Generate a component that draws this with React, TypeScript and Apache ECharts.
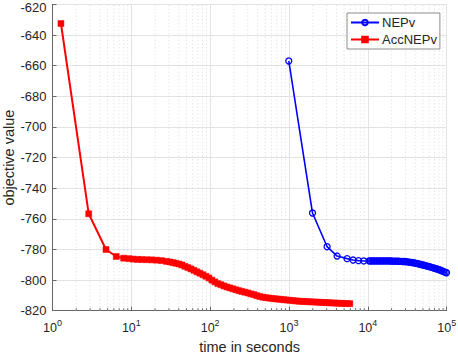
import React, { useEffect, useRef } from 'react';
import * as echarts from 'echarts';

// Axis ranges / ticks
const xMin = 1;
const xMax = 100000;
const yMin = -820;
const yMax = -620;
const yInterval = 20;
const xMinorTicks = [
  2, 3, 4, 5, 6, 7, 8, 9,
  20, 30, 40, 50, 60, 70, 80, 90,
  200, 300, 400, 500, 600, 700, 800, 900,
  2000, 3000, 4000, 5000, 6000, 7000, 8000, 9000,
  20000, 30000, 40000, 50000, 60000, 70000, 80000, 90000,
];

// NEPv (blue, circles)
const nepvTime = [
  993, 1986, 3041, 4070, 5450, 6490, 7600, 8870, 10350,
  10726, 11206, 11707, 12231, 12778, 13350, 13947, 14571, 15223, 15904,
  16615, 17358, 18135, 18946, 19794, 20679, 21604, 22571, 23581, 24636,
  25738, 26889, 28092, 29349, 30662, 32034, 33467, 34964, 36528, 38162,
  39869, 41653, 43516, 45463, 47497, 49622, 51842, 54161, 56584, 59115,
  61760, 64523, 67409, 70425, 73575, 76867, 80306, 83898, 87652, 91573,
  95670, 99500,
];
const nepvValue = [
  -656.9, -756.2, -778.2, -784.3, -786.0, -786.9, -787.3, -787.5, -787.5,
  -787.5, -787.5, -787.5, -787.5, -787.5, -787.5, -787.5, -787.5, -787.5, -787.5,
  -787.5, -787.5, -787.5, -787.5, -787.55, -787.6, -787.6, -787.6, -787.65, -787.7,
  -787.75, -787.8, -787.85, -787.9, -788.0, -788.1, -788.25, -788.4, -788.55, -788.7,
  -788.9, -789.1, -789.35, -789.6, -789.85, -790.1, -790.35, -790.6, -790.85, -791.1,
  -791.4, -791.7, -792.0, -792.3, -792.6, -792.9, -793.25, -793.6, -794.05, -794.5,
  -794.9, -795.2,
];

// AccNEPv (red, squares)
const accTime = [
  1.28, 2.88, 4.77, 6.44, 7.99, 9.32, 10.57, 12.02, 13.51, 15.63, 18.09, 20.93, 24.21, 28.03,
  30.85, 33.67, 36.75, 40.12, 43.79, 47.8, 52.17, 56.94, 62.15, 67.84,
  74.05, 80.82, 88.22, 96.29, 105.1, 114.7, 125.2, 136.7, 149.2, 162.8,
  177.7, 194.0, 211.8, 231.1, 252.3, 275.4, 300.6, 328.1, 358.1, 390.9,
  426.6, 465.7, 508.3, 554.8, 605.6, 661.0, 721.5, 787.5, 859.6, 938.2,
  1024, 1118, 1220, 1332, 1454, 1587, 1732, 1890, 2063, 2252,
  2458, 2683, 2929, 3197, 3489, 3809, 4157, 4538, 4953, 5406, 5901,
];
const accValue = [
  -632.4, -756.7, -780.0, -784.6, -785.7, -786.0, -786.3, -786.5, -786.6, -786.7, -786.8, -787.0, -787.3, -787.8,
  -788.2, -788.6, -789.0, -789.5, -790.1, -791.0, -791.8, -792.7, -793.6, -794.6,
  -795.5, -796.5, -797.5, -798.6, -800.0, -801.2, -802.3, -803.0, -803.8, -804.5,
  -805.1, -805.7, -806.3, -806.9, -807.4, -807.9, -808.4, -809.0, -809.5, -810.2,
  -810.7, -811.2, -811.5, -811.7, -812.0, -812.2, -812.4, -812.6, -812.8, -813.0,
  -813.2, -813.4, -813.6, -813.8, -813.9, -814.0, -814.1, -814.2, -814.3, -814.4,
  -814.5, -814.6, -814.7, -814.8, -814.9, -815.0, -815.1, -815.2, -815.3, -815.3, -815.4,
];

const FONT = '"Liberation Sans", Arial, Helvetica, sans-serif';
const TEXT = '#262626';
const AXIS = '#666666';

export default function App() {
  const ref = useRef<HTMLDivElement>(null);
  useEffect(() => {
    document.body.style.margin = '0';
    const chart = echarts.init(ref.current!, null, { renderer: 'svg' });
    const option: any = {
      animation: false,
      backgroundColor: '#ffffff',
      textStyle: { fontFamily: FONT },
      grid: {
        left: 52.5, right: 11.3, top: 4.5, bottom: 44.3,
        containLabel: false, outerBoundsMode: 'none',
      },
      legend: {
        data: ['NEPv', 'AccNEPv'],
        orient: 'vertical',
        left: 347,
        top: 13,
        backgroundColor: '#ffffff',
        borderColor: '#8c8c8c',
        borderWidth: 1,
        borderRadius: 0,
        padding: [2, 3, 2, 3],
        itemGap: 2,
        itemWidth: 28,
        itemHeight: 7,
        textStyle: { fontFamily: FONT, fontSize: 13, color: TEXT, padding: [0, 0, 0, -2], lineHeight: 15 },
      },
      xAxis: {
        type: 'log',
        logBase: 10,
        min: xMin,
        max: xMax,
        name: 'time in seconds',
        nameLocation: 'middle',
        nameGap: 29,
        nameMoveOverlap: false,
        nameTextStyle: { fontFamily: FONT, fontSize: 14.5, color: TEXT },
        axisLine: { show: true, lineStyle: { color: AXIS, width: 1 } },
        axisTick: { show: true, inside: true, length: 4, lineStyle: { color: AXIS } },
        splitLine: { show: true, lineStyle: { color: '#e3e3e3', width: 1 } },
        minorTick: { show: false },
        axisLabel: {
          margin: 8,
          formatter: (v: number) => '{b|10}{s|' + Math.round(Math.log10(v)) + '}',
          rich: {
            b: { fontFamily: FONT, fontSize: 12.5, color: TEXT, lineHeight: 16, verticalAlign: 'bottom' },
            s: { fontFamily: FONT, fontSize: 9, color: TEXT, lineHeight: 16, verticalAlign: 'top', padding: [0, 0, 7, 0] },
          },
        },
      },
      yAxis: {
        type: 'value',
        min: yMin,
        max: yMax,
        interval: yInterval,
        name: 'objective value',
        nameLocation: 'middle',
        nameGap: 36,
        nameMoveOverlap: false,
        nameTextStyle: { fontFamily: FONT, fontSize: 14.5, color: TEXT },
        axisLine: { show: true, lineStyle: { color: AXIS, width: 1 } },
        axisTick: { show: true, inside: true, length: 4, lineStyle: { color: AXIS } },
        splitLine: { show: true, lineStyle: { color: '#e3e3e3', width: 1 } },
        axisLabel: {
          margin: 6,
          formatter: (v: number) => (v === yMax ? '{t|' + v + '}' : '{n|' + v + '}'),
          rich: {
            n: { fontFamily: FONT, fontSize: 13, color: TEXT },
            t: { fontFamily: FONT, fontSize: 13, color: TEXT, padding: [5, 0, 0, 0] },
          },
        },
      },
      series: [
        {
          type: 'custom',
          name: 'minor',
          silent: true,
          z: 1,
          data: xMinorTicks.map((t) => [t, yMin]),
          renderItem: (params: any, api: any) => {
            const p0 = api.coord([api.value(0), yMin]);
            const p1 = api.coord([api.value(0), yMax]);
            return {
              type: 'group',
              children: [
                {
                  type: 'line',
                  shape: { x1: p0[0], y1: p0[1], x2: p1[0], y2: p1[1] },
                  style: { stroke: '#d2d2d2', lineWidth: 0.8, lineDash: [1, 2.5] },
                },
                {
                  type: 'line',
                  shape: { x1: p0[0], y1: p0[1], x2: p0[0], y2: p0[1] - 2.5 },
                  style: { stroke: AXIS, lineWidth: 1 },
                },
              ],
            };
          },
        },
        {
          type: 'line',
          name: 'NEPv',
          z: 3,
          data: nepvTime.map((t, i) => [t, nepvValue[i]]),
          symbol: 'circle',
          symbolSize: 6,
          showAllSymbol: true,
          lineStyle: { color: '#0000ff', width: 1.6 },
          itemStyle: { color: 'rgba(255,255,255,0)', borderColor: '#0000ff', borderWidth: 1.3 },
        },
        {
          type: 'line',
          name: 'AccNEPv',
          z: 4,
          data: accTime.map((t, i) => [t, accValue[i]]),
          symbol: 'rect',
          symbolSize: 6,
          showAllSymbol: true,
          lineStyle: { color: '#ff0000', width: 2 },
          itemStyle: { color: '#ff0000', borderColor: '#ff0000', borderWidth: 0.5 },
        },
      ],
    };
    chart.setOption(option);
    return () => chart.dispose();
  }, []);
  return <div ref={ref} style={{ position: 'fixed', left: 0, top: 0, width: 458, height: 355 }} />;
}
